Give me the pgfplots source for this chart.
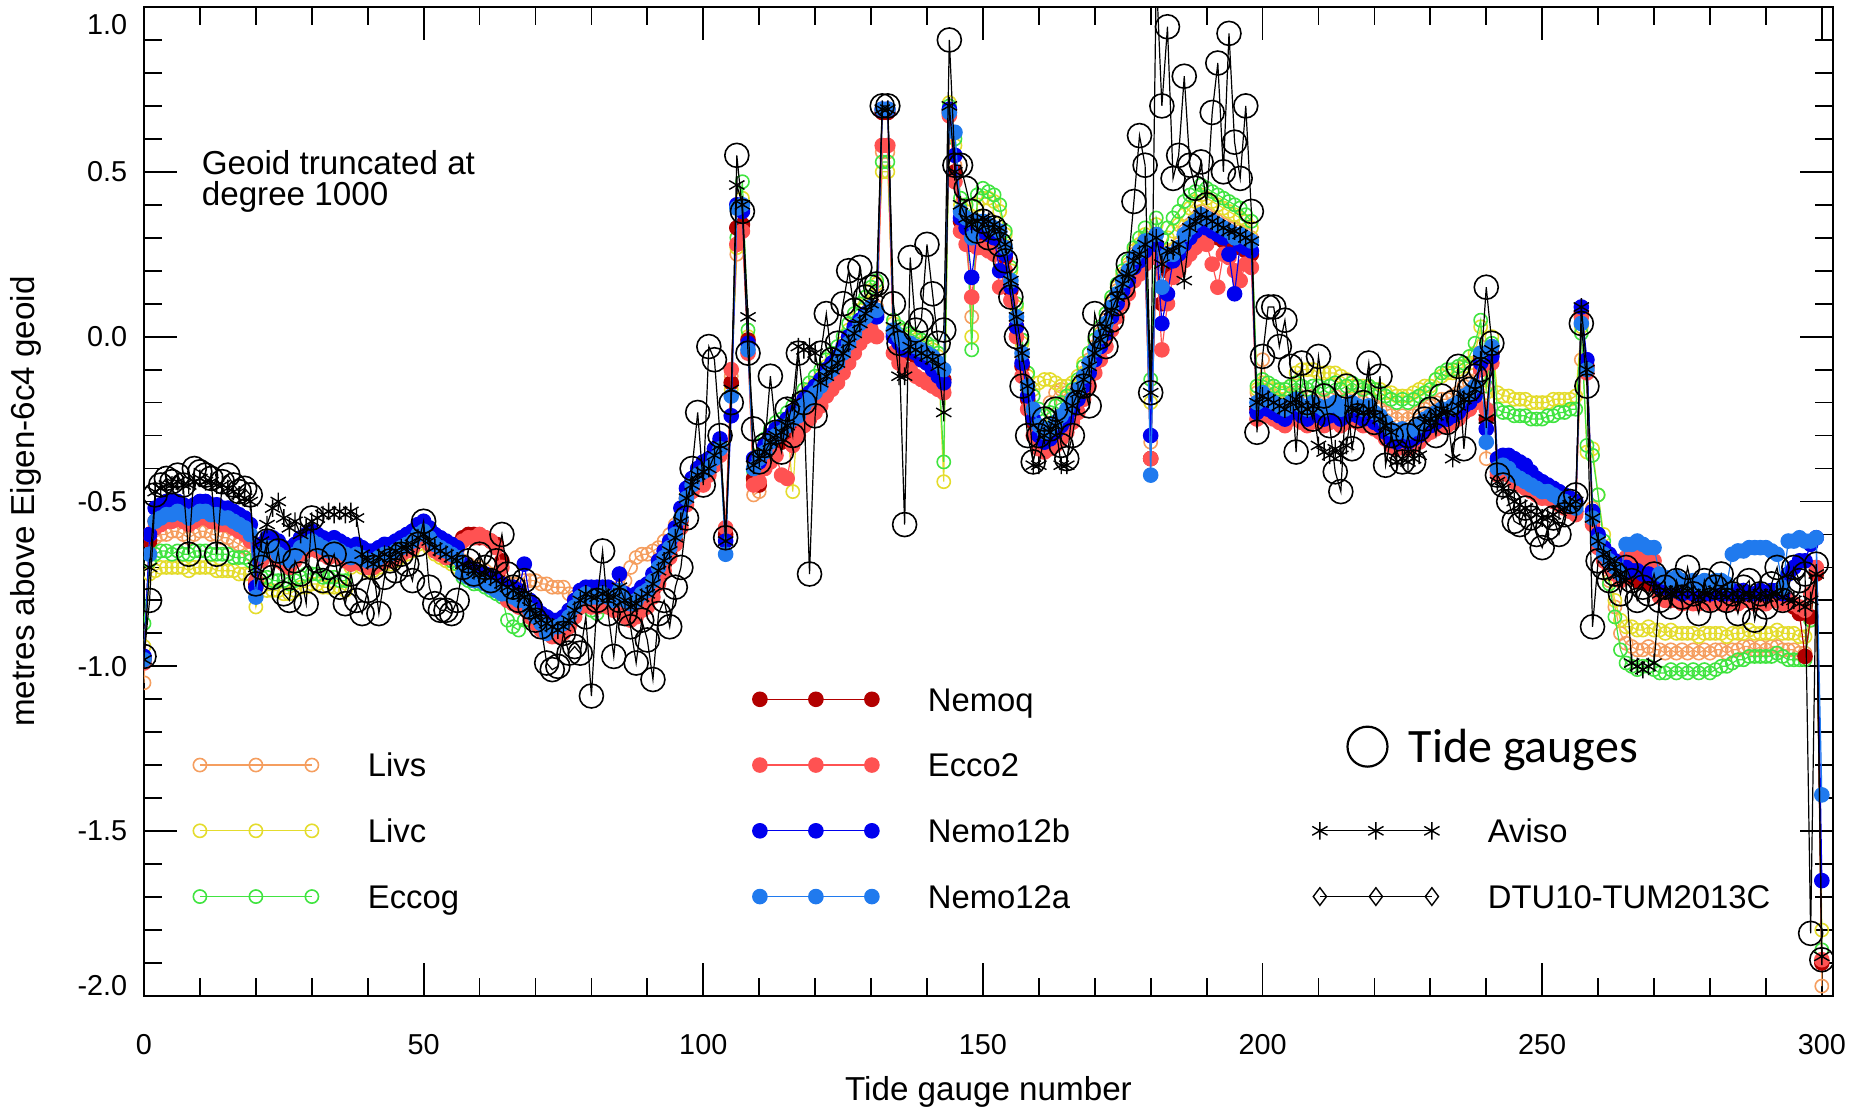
\documentclass[border=0pt]{standalone}
\usepackage{fontspec}
\setmainfont{Liberation Sans}
\newfontfamily\calibri{Carlito}
\usepackage{pgfplots}
\usepackage{pgfplotstable}
\pgfplotsset{compat=1.18}
\definecolor{clivs}{RGB}{245,158,95}
\definecolor{clivc}{RGB}{228,220,45}
\definecolor{ceccog}{RGB}{65,228,65}
\definecolor{cnemoq}{RGB}{178,0,0}
\definecolor{cecco}{RGB}{255,82,82}
\definecolor{cnemob}{RGB}{0,0,238}
\definecolor{cnemoa}{RGB}{32,122,238}
\pgfplotsset{
  sLivs/.style={clivs, line width=0.3pt, mark=o, mark size=1.65pt, mark options={solid, line width=0.4pt}},
  sLivc/.style={clivc, line width=0.3pt, mark=o, mark size=1.65pt, mark options={solid, line width=0.4pt}},
  sEccog/.style={ceccog, line width=0.3pt, mark=o, mark size=1.65pt, mark options={solid, line width=0.4pt}},
  sNemoq/.style={cnemoq, line width=0.3pt, mark=*, mark size=1.8pt, mark options={solid}},
  sEcco/.style={cecco, line width=0.3pt, mark=*, mark size=1.8pt, mark options={solid}},
  sNemob/.style={cnemob, line width=0.3pt, mark=*, mark size=1.8pt, mark options={solid}},
  sNemoa/.style={cnemoa, line width=0.3pt, mark=*, mark size=1.8pt, mark options={solid}},
  sAviso/.style={black, line width=0.3pt, mark=asterisk, mark size=2.2pt, mark options={solid, line width=0.35pt}},
  sDTU/.style={black, line width=0.3pt, mark=diamond, mark size=2.2pt, mark options={solid, line width=0.35pt}},
  sTG/.style={black, line width=0.3pt, mark=o, mark size=3.0pt, mark options={solid, line width=0.4pt}},
  samp/.style={legend image code/.code={%
      \path[draw=none, fill=none] (-3pt,-3pt) rectangle (31pt,3pt);
      \draw[##1] plot coordinates {(0pt,0pt) (14pt,0pt) (28pt,0pt)};}},
}
\pgfplotstableread{
x tg av a b e q g c s
0 -0.97 -0.98 -0.98 -0.97 -0.99 -0.98 -0.87 -0.94 -1.05
1 -0.80 -0.70 -0.66 -0.60 -0.60 -0.62 -0.68 -0.72 -0.64
2 -0.48 -0.47 -0.56 -0.52 -0.58 -0.56 -0.66 -0.71 -0.61
3 -0.45 -0.46 -0.55 -0.51 -0.57 -0.55 -0.65 -0.70 -0.60
4 -0.43 -0.45 -0.54 -0.50 -0.56 -0.55 -0.65 -0.70 -0.60
5 -0.44 -0.45 -0.54 -0.50 -0.56 -0.54 -0.66 -0.70 -0.59
6 -0.42 -0.44 -0.53 -0.50 -0.55 -0.54 -0.65 -0.70 -0.59
7 -0.45 -0.45 -0.54 -0.51 -0.56 -0.55 -0.66 -0.70 -0.60
8 -0.66 -0.45 -0.55 -0.52 -0.57 -0.56 -0.66 -0.71 -0.61
9 -0.40 -0.44 -0.54 -0.51 -0.56 -0.55 -0.65 -0.70 -0.60
10 -0.41 -0.43 -0.53 -0.50 -0.55 -0.54 -0.65 -0.70 -0.59
11 -0.42 -0.44 -0.53 -0.50 -0.55 -0.54 -0.65 -0.70 -0.59
12 -0.43 -0.44 -0.54 -0.51 -0.56 -0.55 -0.66 -0.70 -0.60
13 -0.66 -0.45 -0.54 -0.51 -0.56 -0.55 -0.66 -0.71 -0.60
14 -0.44 -0.45 -0.55 -0.52 -0.57 -0.56 -0.66 -0.71 -0.61
15 -0.42 -0.46 -0.55 -0.52 -0.57 -0.56 -0.66 -0.71 -0.61
16 -0.45 -0.47 -0.56 -0.53 -0.58 -0.57 -0.67 -0.71 -0.62
17 -0.47 -0.48 -0.57 -0.54 -0.59 -0.58 -0.67 -0.72 -0.63
18 -0.46 -0.49 -0.58 -0.55 -0.60 -0.59 -0.67 -0.72 -0.64
19 -0.48 -0.50 -0.60 -0.57 -0.62 -0.61 -0.68 -0.72 -0.66
20 -0.75 -0.70 -0.79 -0.76 -0.74 -0.75 -0.76 -0.82 -0.78
21 -0.70 -0.62 -0.66 -0.63 -0.68 -0.66 -0.73 -0.76 -0.68
22 -0.62 -0.57 -0.64 -0.61 -0.66 -0.64 -0.73 -0.77 -0.66
23 -0.73 -0.52 -0.64 -0.61 -0.66 -0.65 -0.74 -0.77 -0.66
24 -0.65 -0.50 -0.66 -0.62 -0.68 -0.66 -0.74 -0.77 -0.67
25 -0.78 -0.55 -0.67 -0.64 -0.69 -0.67 -0.74 -0.78 -0.68
26 -0.80 -0.58 -0.68 -0.65 -0.70 -0.68 -0.75 -0.78 -0.69
27 -0.68 -0.56 -0.66 -0.63 -0.68 -0.66 -0.74 -0.77 -0.67
28 -0.72 -0.60 -0.64 -0.61 -0.66 -0.64 -0.73 -0.76 -0.65
29 -0.81 -0.58 -0.63 -0.60 -0.65 -0.63 -0.72 -0.76 -0.64
30 -0.55 -0.56 -0.62 -0.59 -0.64 -0.62 -0.72 -0.75 -0.63
31 -0.68 -0.55 -0.63 -0.60 -0.65 -0.63 -0.72 -0.75 -0.64
32 -0.74 -0.54 -0.64 -0.61 -0.66 -0.64 -0.73 -0.76 -0.65
33 -0.70 -0.53 -0.65 -0.62 -0.67 -0.65 -0.73 -0.76 -0.66
34 -0.66 -0.54 -0.64 -0.61 -0.66 -0.64 -0.73 -0.76 -0.65
35 -0.76 -0.53 -0.65 -0.62 -0.67 -0.65 -0.74 -0.76 -0.66
36 -0.81 -0.54 -0.66 -0.63 -0.68 -0.66 -0.74 -0.77 -0.67
37 -0.72 -0.53 -0.67 -0.64 -0.69 -0.67 -0.69 -0.70 -0.68
38 -0.80 -0.55 -0.66 -0.63 -0.68 -0.66 -0.68 -0.69 -0.67
39 -0.84 -0.66 -0.67 -0.64 -0.69 -0.67 -0.69 -0.70 -0.68
40 -0.77 -0.68 -0.68 -0.65 -0.70 -0.68 -0.70 -0.71 -0.69
41 -0.70 -0.69 -0.68 -0.65 -0.70 -0.68 -0.70 -0.71 -0.69
42 -0.84 -0.67 -0.67 -0.64 -0.69 -0.67 -0.69 -0.70 -0.68
43 -0.73 -0.66 -0.66 -0.63 -0.68 -0.66 -0.68 -0.69 -0.67
44 -0.68 -0.67 -0.66 -0.63 -0.68 -0.66 -0.68 -0.69 -0.67
45 -0.71 -0.65 -0.65 -0.62 -0.67 -0.65 -0.67 -0.68 -0.66
46 -0.66 -0.64 -0.64 -0.61 -0.66 -0.64 -0.66 -0.67 -0.65
47 -0.69 -0.64 -0.63 -0.60 -0.65 -0.63 -0.65 -0.66 -0.64
48 -0.74 -0.63 -0.62 -0.59 -0.64 -0.62 -0.64 -0.65 -0.63
49 -0.63 -0.61 -0.60 -0.57 -0.62 -0.60 -0.62 -0.63 -0.61
50 -0.56 -0.60 -0.59 -0.56 -0.61 -0.59 -0.61 -0.62 -0.60
51 -0.76 -0.62 -0.61 -0.58 -0.63 -0.61 -0.63 -0.64 -0.62
52 -0.81 -0.64 -0.63 -0.60 -0.65 -0.63 -0.65 -0.66 -0.64
53 -0.83 -0.65 -0.64 -0.61 -0.66 -0.64 -0.66 -0.67 -0.65
54 -0.83 -0.66 -0.65 -0.62 -0.67 -0.65 -0.67 -0.68 -0.66
55 -0.84 -0.67 -0.66 -0.63 -0.66 -0.64 -0.68 -0.69 -0.65
56 -0.80 -0.68 -0.67 -0.64 -0.64 -0.63 -0.69 -0.70 -0.65
57 -0.70 -0.69 -0.72 -0.69 -0.62 -0.61 -0.73 -0.72 -0.68
58 -0.68 -0.70 -0.73 -0.70 -0.61 -0.60 -0.74 -0.73 -0.69
59 -0.72 -0.71 -0.74 -0.71 -0.61 -0.60 -0.75 -0.74 -0.70
60 -0.66 -0.72 -0.74 -0.72 -0.60 -0.61 -0.75 -0.74 -0.70
61 -0.70 -0.72 -0.75 -0.72 -0.61 -0.61 -0.76 -0.75 -0.71
62 -0.74 -0.73 -0.76 -0.73 -0.62 -0.62 -0.77 -0.75 -0.72
63 -0.68 -0.74 -0.77 -0.74 -0.64 -0.63 -0.78 -0.76 -0.73
64 -0.60 -0.75 -0.78 -0.75 -0.70 -0.68 -0.79 -0.77 -0.74
65 -0.72 -0.76 -0.78 -0.76 -0.80 -0.78 -0.86 -0.80 -0.75
66 -0.76 -0.77 -0.79 -0.76 -0.81 -0.79 -0.88 -0.81 -0.75
67 -0.80 -0.78 -0.80 -0.77 -0.82 -0.80 -0.89 -0.82 -0.75
68 -0.74 -0.79 -0.80 -0.69 -0.82 -0.80 -0.86 -0.82 -0.74
69 -0.82 -0.82 -0.83 -0.80 -0.85 -0.83 -0.86 -0.84 -0.74
70 -0.86 -0.84 -0.85 -0.82 -0.87 -0.85 -0.87 -0.86 -0.74
71 -0.88 -0.86 -0.87 -0.84 -0.89 -0.87 -0.88 -0.87 -0.75
72 -0.99 -0.87 -0.90 -0.85 -0.90 -0.88 -0.90 -0.88 -0.75
73 -1.01 -0.88 -0.88 -0.86 -0.91 -0.89 -0.91 -0.89 -0.76
74 -1.00 -0.89 -0.88 -0.86 -0.91 -0.89 -0.91 -0.89 -0.76
75 -0.90 -0.88 -0.87 -0.85 -0.90 -0.88 -0.90 -0.88 -0.76
76 -0.96 -0.86 -0.85 -0.83 -0.88 -0.86 -0.88 -0.87 -0.78
77 -0.94 -0.83 -0.82 -0.80 -0.85 -0.83 -0.85 -0.84 -0.79
78 -0.96 -0.80 -0.79 -0.77 -0.82 -0.80 -0.82 -0.81 -0.78
79 -0.85 -0.78 -0.78 -0.76 -0.81 -0.79 -0.81 -0.80 -0.77
80 -1.09 -0.79 -0.79 -0.76 -0.82 -0.80 -0.83 -0.81 -0.78
81 -0.80 -0.79 -0.79 -0.76 -0.82 -0.80 -0.84 -0.81 -0.78
82 -0.65 -0.78 -0.78 -0.76 -0.81 -0.79 -0.82 -0.80 -0.77
83 -0.84 -0.79 -0.79 -0.76 -0.82 -0.80 -0.82 -0.80 -0.77
84 -0.97 -0.79 -0.80 -0.77 -0.83 -0.81 -0.83 -0.81 -0.78
85 -0.80 -0.76 -0.77 -0.72 -0.80 -0.78 -0.80 -0.78 -0.76
86 -0.84 -0.80 -0.80 -0.78 -0.85 -0.83 -0.82 -0.81 -0.74
87 -0.88 -0.82 -0.81 -0.79 -0.86 -0.84 -0.83 -0.82 -0.70
88 -0.99 -0.81 -0.80 -0.78 -0.85 -0.83 -0.82 -0.81 -0.67
89 -0.86 -0.79 -0.78 -0.76 -0.83 -0.81 -0.80 -0.79 -0.66
90 -0.92 -0.78 -0.77 -0.75 -0.82 -0.80 -0.79 -0.78 -0.66
91 -1.04 -0.75 -0.74 -0.72 -0.79 -0.77 -0.76 -0.75 -0.65
92 -0.84 -0.71 -0.70 -0.68 -0.75 -0.73 -0.72 -0.71 -0.64
93 -0.80 -0.68 -0.67 -0.65 -0.71 -0.69 -0.69 -0.68 -0.62
94 -0.88 -0.65 -0.64 -0.62 -0.67 -0.66 -0.66 -0.65 -0.60
95 -0.76 -0.61 -0.60 -0.58 -0.63 -0.62 -0.62 -0.61 -0.57
96 -0.70 -0.56 -0.55 -0.52 -0.58 -0.56 -0.56 -0.55 -0.52
97 -0.55 -0.49 -0.49 -0.46 -0.51 -0.49 -0.49 -0.48 -0.46
98 -0.40 -0.45 -0.45 -0.43 -0.47 -0.45 -0.44 -0.44 -0.43
99 -0.23 -0.42 -0.42 -0.40 -0.44 -0.42 -0.41 -0.41 -0.40
100 -0.45 -0.41 -0.41 -0.38 -0.45 -0.43 -0.40 -0.41 -0.40
101 -0.03 -0.40 -0.40 -0.37 -0.42 -0.40 -0.38 -0.39 -0.38
102 -0.07 -0.36 -0.37 -0.34 -0.39 -0.37 -0.35 -0.36 -0.35
103 -0.30 -0.33 -0.34 -0.31 -0.36 -0.34 -0.32 -0.33 -0.32
104 -0.61 -0.62 -0.66 -0.62 -0.58 -0.60 -0.60 -0.62 -0.58
105 -0.20 -0.16 -0.18 -0.24 -0.10 -0.14 -0.14 -0.16 -0.12
106 0.55 0.46 0.39 0.40 0.28 0.33 0.30 0.27 0.25
107 0.38 0.40 0.40 0.38 0.32 0.34 0.47 0.42 0.32
108 -0.05 0.06 -0.04 -0.02 -0.05 -0.01 0.02 0.00 -0.03
109 -0.28 -0.39 -0.40 -0.37 -0.45 -0.43 -0.41 -0.44 -0.48
110 -0.38 -0.37 -0.37 -0.38 -0.44 -0.45 -0.33 -0.36 -0.47
111 -0.33 -0.35 -0.35 -0.33 -0.40 -0.38 -0.31 -0.33 -0.40
112 -0.12 -0.32 -0.32 -0.30 -0.38 -0.35 -0.28 -0.30 -0.36
113 -0.29 -0.30 -0.30 -0.28 -0.36 -0.33 -0.26 -0.28 -0.33
114 -0.35 -0.29 -0.29 -0.27 -0.42 -0.32 -0.25 -0.27 -0.32
115 -0.22 -0.27 -0.27 -0.25 -0.43 -0.30 -0.23 -0.25 -0.30
116 -0.30 -0.20 -0.25 -0.23 -0.33 -0.28 -0.21 -0.47 -0.28
117 -0.05 -0.03 -0.24 -0.22 -0.30 -0.27 -0.19 -0.21 -0.27
118 -0.20 -0.04 -0.21 -0.19 -0.27 -0.24 -0.16 -0.18 -0.24
119 -0.72 -0.03 -0.19 -0.17 -0.25 -0.22 -0.14 -0.16 -0.22
120 -0.24 -0.05 -0.17 -0.15 -0.23 -0.20 -0.12 -0.14 -0.20
121 -0.05 -0.14 -0.15 -0.13 -0.21 -0.18 -0.10 -0.12 -0.18
122 0.07 -0.12 -0.12 -0.10 -0.18 -0.15 -0.07 -0.09 -0.15
123 -0.07 -0.10 -0.10 -0.08 -0.16 -0.13 -0.05 -0.07 -0.13
124 -0.02 -0.08 -0.08 -0.06 -0.14 -0.11 -0.03 -0.05 -0.11
125 0.10 -0.05 -0.05 -0.03 -0.11 -0.08 0.00 -0.02 -0.08
126 0.20 -0.02 -0.02 0.00 -0.08 -0.04 0.04 0.02 -0.05
127 0.08 0.01 0.01 0.03 -0.05 -0.01 0.07 0.05 -0.02
128 0.21 0.04 0.04 0.05 -0.02 0.02 0.10 0.08 0.01
129 0.12 0.07 0.06 0.07 0.00 0.05 0.12 0.10 0.03
130 0.15 0.10 0.09 0.09 0.02 0.08 0.15 0.14 0.06
131 0.16 0.13 0.08 0.06 0.00 0.07 0.17 0.16 0.09
132 0.70 0.69 0.69 0.69 0.58 0.68 0.53 0.50 0.56
133 0.70 0.69 0.69 0.69 0.58 0.68 0.53 0.50 0.56
134 0.10 0.03 0.02 0.00 -0.05 0.01 0.05 0.04 0.00
135 -0.02 -0.12 0.00 -0.02 -0.08 -0.03 0.03 0.02 -0.02
136 -0.57 -0.12 -0.02 -0.04 -0.10 -0.05 0.02 0.00 -0.03
137 0.24 -0.03 -0.02 -0.04 -0.10 -0.05 0.01 0.00 -0.03
138 0.02 -0.04 -0.03 -0.05 -0.12 -0.06 0.00 -0.01 -0.04
139 0.05 -0.05 -0.04 -0.07 -0.13 -0.07 -0.01 -0.02 -0.06
140 0.28 -0.06 -0.05 -0.08 -0.14 -0.08 -0.02 -0.03 -0.07
141 0.13 -0.07 -0.06 -0.10 -0.15 -0.09 -0.03 -0.04 -0.10
142 -0.02 -0.09 -0.08 -0.12 -0.16 -0.11 -0.05 -0.06 -0.13
143 0.02 -0.23 -0.10 -0.14 -0.17 -0.13 -0.38 -0.44 -0.15
144 0.90 0.70 0.68 0.69 0.67 0.68 0.70 0.71 0.69
145 0.52 0.50 0.62 0.55 0.47 0.50 0.60 0.58 0.52
146 0.52 0.40 0.38 0.36 0.32 0.35 0.42 0.40 0.36
147 0.45 0.36 0.36 0.33 0.28 0.32 0.40 0.38 0.34
148 0.38 0.34 0.30 0.18 0.12 0.28 -0.04 0.00 0.06
149 0.32 0.35 0.35 0.32 0.27 0.30 0.43 0.40 0.33
150 0.35 0.36 0.35 0.32 0.27 0.31 0.45 0.42 0.33
151 0.30 0.35 0.34 0.31 0.26 0.30 0.44 0.42 0.32
152 0.33 0.34 0.33 0.30 0.25 0.29 0.43 0.41 0.31
153 0.28 0.33 0.32 0.20 0.15 0.28 0.40 0.38 0.30
154 0.23 0.28 0.27 0.25 0.20 0.24 0.32 0.31 0.26
155 0.12 0.17 0.17 0.15 0.11 0.14 0.21 0.20 0.16
156 0.00 0.06 0.06 0.03 0.00 0.03 0.10 0.09 0.05
157 -0.15 -0.05 -0.05 -0.08 -0.12 -0.09 -0.01 -0.02 -0.06
158 -0.30 -0.15 -0.15 -0.18 -0.22 -0.19 -0.11 -0.12 -0.16
159 -0.38 -0.39 -0.22 -0.25 -0.30 -0.26 -0.18 -0.16 -0.22
160 -0.30 -0.39 -0.27 -0.30 -0.34 -0.31 -0.22 -0.14 -0.27
161 -0.25 -0.30 -0.29 -0.32 -0.35 -0.33 -0.24 -0.13 -0.28
162 -0.28 -0.29 -0.28 -0.31 -0.34 -0.32 -0.23 -0.13 -0.20
163 -0.22 -0.27 -0.26 -0.29 -0.33 -0.30 -0.21 -0.14 -0.17
164 -0.33 -0.39 -0.24 -0.27 -0.31 -0.28 -0.20 -0.15 -0.16
165 -0.37 -0.39 -0.22 -0.25 -0.29 -0.26 -0.18 -0.15 -0.17
166 -0.30 -0.21 -0.19 -0.22 -0.26 -0.23 -0.16 -0.14 -0.17
167 -0.20 -0.17 -0.16 -0.19 -0.23 -0.20 -0.13 -0.12 -0.15
168 -0.15 -0.13 -0.12 -0.15 -0.19 -0.16 -0.09 -0.08 -0.11
169 -0.21 -0.09 -0.08 -0.11 -0.15 -0.12 -0.05 -0.05 -0.07
170 0.07 -0.05 -0.04 -0.07 -0.11 -0.08 -0.01 -0.01 -0.03
171 0.00 -0.01 0.00 -0.03 -0.07 -0.04 0.03 0.03 0.01
172 -0.03 0.03 0.04 0.01 -0.03 0.00 0.07 0.07 0.05
173 0.05 0.08 0.09 0.06 0.02 0.05 0.12 0.11 0.10
174 0.10 0.12 0.13 0.10 0.06 0.09 0.16 0.15 0.14
175 0.15 0.16 0.17 0.14 0.10 0.13 0.20 0.19 0.18
176 0.22 0.19 0.20 0.17 0.13 0.16 0.23 0.22 0.21
177 0.41 0.23 0.24 0.21 0.17 0.20 0.27 0.26 0.25
178 0.61 0.25 0.26 0.23 0.19 0.22 0.30 0.28 0.27
179 0.52 0.28 0.29 0.26 0.22 0.25 0.33 0.31 0.30
180 -0.17 -0.17 -0.42 -0.30 -0.37 -0.37 -0.13 -0.20 -0.32
181 1.10 0.30 0.31 0.28 0.24 0.27 0.36 0.34 0.31
182 0.70 0.22 0.15 0.04 -0.04 0.10 0.30 0.25 0.20
183 0.94 0.26 0.25 0.13 0.10 0.20 0.33 0.30 0.26
184 0.48 0.26 0.25 0.23 0.18 0.22 0.36 0.32 0.26
185 0.55 0.28 0.27 0.25 0.20 0.24 0.38 0.34 0.28
186 0.79 0.17 0.31 0.28 0.23 0.27 0.41 0.37 0.32
187 0.52 0.33 0.33 0.30 0.25 0.29 0.43 0.39 0.34
188 0.45 0.35 0.35 0.32 0.27 0.31 0.44 0.41 0.36
189 0.53 0.37 0.37 0.34 0.29 0.33 0.46 0.43 0.38
190 0.40 0.36 0.36 0.33 0.28 0.32 0.45 0.42 0.37
191 0.68 0.35 0.35 0.32 0.22 0.31 0.44 0.41 0.36
192 0.83 0.34 0.34 0.31 0.15 0.30 0.43 0.40 0.35
193 0.50 0.33 0.33 0.30 0.25 0.29 0.42 0.39 0.34
194 0.92 0.32 0.32 0.25 0.24 0.28 0.41 0.38 0.33
195 0.59 0.32 0.30 0.13 0.20 0.28 0.40 0.37 0.33
196 0.48 0.31 0.31 0.28 0.17 0.27 0.39 0.36 0.32
197 0.70 0.30 0.30 0.27 0.22 0.26 0.37 0.35 0.31
198 0.38 0.29 0.29 0.26 0.21 0.25 0.35 0.33 0.30
199 -0.29 -0.20 -0.20 -0.23 -0.25 -0.22 -0.15 -0.16 -0.17
200 -0.06 -0.18 -0.17 -0.21 -0.22 -0.20 -0.13 -0.14 -0.07
201 0.09 -0.19 -0.19 -0.22 -0.24 -0.21 -0.14 -0.15 -0.16
202 0.09 -0.20 -0.20 -0.23 -0.25 -0.22 -0.15 -0.16 -0.18
203 -0.03 -0.21 -0.21 -0.24 -0.26 -0.23 -0.16 -0.17 -0.19
204 0.05 -0.22 -0.22 -0.25 -0.27 -0.24 -0.16 -0.17 -0.20
205 -0.09 -0.20 -0.20 -0.23 -0.25 -0.22 -0.15 -0.15 -0.18
206 -0.35 -0.19 -0.19 -0.22 -0.24 -0.21 -0.14 -0.11 -0.17
207 -0.08 -0.21 -0.21 -0.24 -0.26 -0.23 -0.15 -0.10 -0.19
208 -0.20 -0.22 -0.22 -0.25 -0.27 -0.24 -0.16 -0.10 -0.20
209 -0.25 -0.21 -0.20 -0.23 -0.25 -0.22 -0.15 -0.10 -0.18
210 -0.06 -0.33 -0.21 -0.24 -0.26 -0.23 -0.15 -0.11 -0.19
211 -0.18 -0.35 -0.22 -0.25 -0.27 -0.24 -0.16 -0.11 -0.20
212 -0.27 -0.36 -0.21 -0.24 -0.26 -0.23 -0.15 -0.11 -0.19
213 -0.41 -0.34 -0.20 -0.23 -0.25 -0.22 -0.14 -0.11 -0.18
214 -0.47 -0.36 -0.22 -0.25 -0.27 -0.24 -0.16 -0.12 -0.20
215 -0.15 -0.33 -0.21 -0.24 -0.26 -0.23 -0.15 -0.13 -0.19
216 -0.34 -0.22 -0.20 -0.23 -0.25 -0.22 -0.14 -0.15 -0.18
217 -0.24 -0.22 -0.21 -0.24 -0.26 -0.23 -0.15 -0.15 -0.19
218 -0.20 -0.23 -0.22 -0.25 -0.27 -0.24 -0.16 -0.15 -0.20
219 -0.08 -0.22 -0.21 -0.24 -0.26 -0.23 -0.15 -0.15 -0.19
220 -0.26 -0.24 -0.23 -0.26 -0.28 -0.25 -0.16 -0.16 -0.21
221 -0.12 -0.25 -0.24 -0.27 -0.29 -0.26 -0.17 -0.16 -0.22
222 -0.39 -0.27 -0.26 -0.29 -0.31 -0.28 -0.18 -0.17 -0.23
223 -0.30 -0.29 -0.28 -0.31 -0.33 -0.30 -0.19 -0.17 -0.24
224 -0.35 -0.38 -0.29 -0.32 -0.34 -0.31 -0.20 -0.18 -0.25
225 -0.38 -0.37 -0.28 -0.31 -0.33 -0.30 -0.19 -0.18 -0.24
226 -0.30 -0.38 -0.29 -0.32 -0.34 -0.31 -0.20 -0.18 -0.25
227 -0.38 -0.37 -0.28 -0.31 -0.33 -0.30 -0.19 -0.17 -0.24
228 -0.28 -0.36 -0.27 -0.30 -0.32 -0.29 -0.18 -0.16 -0.23
229 -0.25 -0.26 -0.25 -0.28 -0.30 -0.27 -0.17 -0.15 -0.22
230 -0.22 -0.25 -0.24 -0.27 -0.29 -0.26 -0.16 -0.15 -0.21
231 -0.30 -0.24 -0.23 -0.26 -0.28 -0.25 -0.13 -0.13 -0.20
232 -0.18 -0.23 -0.22 -0.25 -0.27 -0.24 -0.11 -0.12 -0.19
233 -0.26 -0.23 -0.22 -0.25 -0.27 -0.24 -0.10 -0.11 -0.19
234 -0.20 -0.37 -0.21 -0.24 -0.26 -0.23 -0.10 -0.11 -0.18
235 -0.09 -0.21 -0.20 -0.23 -0.25 -0.22 -0.09 -0.10 -0.17
236 -0.34 -0.19 -0.18 -0.21 -0.23 -0.20 -0.08 -0.09 -0.15
237 -0.16 -0.18 -0.17 -0.20 -0.22 -0.19 -0.06 -0.08 -0.14
238 -0.12 -0.16 -0.15 -0.18 -0.20 -0.17 -0.02 -0.05 -0.10
239 -0.10 -0.07 -0.05 -0.08 -0.10 -0.07 0.05 0.03 -0.03
240 0.15 -0.25 -0.32 -0.28 -0.22 -0.25 -0.15 -0.17 -0.37
241 -0.02 -0.04 -0.03 -0.06 -0.08 -0.05 -0.02 0.00 -0.05
242 -0.42 -0.44 -0.40 -0.37 -0.42 -0.41 -0.22 -0.17 -0.39
243 -0.45 -0.46 -0.39 -0.36 -0.41 -0.40 -0.23 -0.18 -0.38
244 -0.50 -0.48 -0.40 -0.36 -0.42 -0.41 -0.23 -0.18 -0.39
245 -0.56 -0.50 -0.42 -0.37 -0.44 -0.43 -0.24 -0.19 -0.41
246 -0.57 -0.51 -0.43 -0.38 -0.45 -0.44 -0.24 -0.19 -0.42
247 -0.52 -0.52 -0.44 -0.39 -0.46 -0.45 -0.24 -0.19 -0.43
248 -0.55 -0.53 -0.45 -0.41 -0.47 -0.46 -0.25 -0.20 -0.44
249 -0.60 -0.54 -0.46 -0.43 -0.48 -0.47 -0.25 -0.20 -0.45
250 -0.64 -0.55 -0.47 -0.44 -0.49 -0.48 -0.25 -0.20 -0.46
251 -0.58 -0.55 -0.47 -0.45 -0.49 -0.48 -0.24 -0.20 -0.46
252 -0.55 -0.54 -0.48 -0.46 -0.50 -0.49 -0.24 -0.19 -0.47
253 -0.60 -0.53 -0.49 -0.47 -0.51 -0.50 -0.23 -0.19 -0.48
254 -0.54 -0.52 -0.50 -0.48 -0.52 -0.51 -0.23 -0.19 -0.49
255 -0.50 -0.51 -0.51 -0.49 -0.53 -0.52 -0.22 -0.19 -0.50
256 -0.48 -0.50 -0.52 -0.50 -0.54 -0.53 -0.22 -0.18 -0.51
257 0.04 0.09 0.04 0.09 0.06 0.07 0.01 0.03 -0.07
258 -0.15 -0.10 -0.10 -0.07 -0.11 -0.09 -0.33 -0.35 -0.07
259 -0.88 -0.55 -0.55 -0.53 -0.57 -0.56 -0.36 -0.34 -0.52
260 -0.68 -0.62 -0.62 -0.60 -0.64 -0.63 -0.48 -0.48 -0.60
261 -0.70 -0.66 -0.66 -0.64 -0.68 -0.67 -0.62 -0.60 -0.66
262 -0.74 -0.68 -0.68 -0.66 -0.70 -0.69 -0.75 -0.72 -0.74
263 -0.72 -0.70 -0.70 -0.68 -0.72 -0.71 -0.85 -0.80 -0.82
264 -0.78 -0.72 -0.72 -0.70 -0.74 -0.73 -0.95 -0.86 -0.90
265 -0.70 -0.74 -0.63 -0.70 -0.67 -0.72 -0.99 -0.88 -0.93
266 -0.74 -0.99 -0.63 -0.71 -0.67 -0.73 -1.00 -0.88 -0.94
267 -0.80 -1.00 -0.62 -0.71 -0.66 -0.74 -1.01 -0.89 -0.95
268 -0.76 -1.01 -0.63 -0.72 -0.67 -0.74 -1.00 -0.89 -0.95
269 -0.78 -1.00 -0.64 -0.72 -0.68 -0.75 -1.00 -0.88 -0.94
270 -0.72 -0.99 -0.64 -0.73 -0.68 -0.75 -1.01 -0.89 -0.95
271 -0.80 -0.78 -0.72 -0.76 -0.79 -0.78 -1.02 -0.89 -0.95
272 -0.76 -0.77 -0.73 -0.76 -0.80 -0.78 -1.02 -0.90 -0.96
273 -0.82 -0.78 -0.74 -0.77 -0.80 -0.79 -1.01 -0.89 -0.95
274 -0.74 -0.77 -0.73 -0.77 -0.80 -0.79 -1.02 -0.90 -0.96
275 -0.79 -0.78 -0.74 -0.78 -0.81 -0.79 -1.01 -0.90 -0.95
276 -0.70 -0.77 -0.75 -0.77 -0.80 -0.79 -1.02 -0.90 -0.96
277 -0.78 -0.78 -0.74 -0.78 -0.81 -0.80 -1.01 -0.90 -0.95
278 -0.84 -0.79 -0.75 -0.78 -0.81 -0.80 -1.02 -0.91 -0.96
279 -0.74 -0.78 -0.74 -0.77 -0.80 -0.79 -1.01 -0.90 -0.95
280 -0.80 -0.78 -0.75 -0.78 -0.81 -0.80 -1.02 -0.90 -0.96
281 -0.76 -0.77 -0.74 -0.77 -0.80 -0.79 -1.01 -0.90 -0.95
282 -0.72 -0.78 -0.74 -0.78 -0.81 -0.79 -1.00 -0.90 -0.95
283 -0.80 -0.79 -0.75 -0.78 -0.81 -0.80 -1.00 -0.91 -0.96
284 -0.78 -0.78 -0.66 -0.77 -0.80 -0.79 -0.99 -0.90 -0.95
285 -0.84 -0.79 -0.65 -0.78 -0.81 -0.80 -0.98 -0.90 -0.95
286 -0.76 -0.78 -0.65 -0.77 -0.80 -0.79 -0.98 -0.90 -0.94
287 -0.74 -0.78 -0.64 -0.78 -0.80 -0.79 -0.97 -0.89 -0.94
288 -0.86 -0.79 -0.64 -0.78 -0.81 -0.80 -0.97 -0.90 -0.95
289 -0.78 -0.78 -0.64 -0.77 -0.80 -0.79 -0.97 -0.90 -0.94
290 -0.82 -0.79 -0.64 -0.78 -0.81 -0.80 -0.97 -0.90 -0.95
291 -0.75 -0.78 -0.65 -0.77 -0.80 -0.79 -0.97 -0.90 -0.94
292 -0.70 -0.78 -0.66 -0.77 -0.80 -0.79 -0.96 -0.89 -0.94
293 -0.80 -0.79 -0.76 -0.78 -0.81 -0.80 -0.97 -0.90 -0.95
294 -0.76 -0.80 -0.62 -0.72 -0.80 -0.80 -0.98 -0.90 -0.95
295 -0.70 -0.80 -0.62 -0.70 -0.81 -0.82 -0.98 -0.90 -0.95
296 -0.74 -0.81 -0.61 -0.68 -0.82 -0.84 -0.98 -0.91 -0.96
297 -0.72 -0.82 -0.62 -0.68 -0.83 -0.97 -0.98 -0.91 -0.96
298 -1.81 -0.80 -0.62 -0.63 -0.78 -0.85 -0.86 -0.85 -0.86
299 -0.69 -0.72 -0.61 -0.61 -0.70 -0.72 -0.72 -0.72 -0.70
300 -1.89 -1.88 -1.39 -1.65 -1.89 -1.90 -1.86 -1.80 -1.97
}\gdata
\begin{document}
\begin{tikzpicture}
\begin{axis}[
  width=422.25pt, height=247.25pt, scale only axis,
  xmin=0, xmax=302, ymin=-2, ymax=1,
  clip marker paths=true,
  axis line style={line width=0.5pt},
  tick style={black, line width=0.45pt},
  major tick length=8.3pt, minor tick length=4.6pt,
  xtick={0,50,100,150,200,250,300}, minor x tick num=4,
  ytick={-2,-1.5,-1,-0.5,0,0.5,1}, minor y tick num=4,
  yticklabels={\smash{\raisebox{0.2pt}{-2.0}},-1.5,-1.0,-0.5,0.0,0.5,\smash{\raisebox{-6.8pt}{1.0}}},
  /pgf/number format/assume math mode=true,
  tick label style={font=\fontsize{7.2}{8.6}\selectfont},
  xticklabel style={anchor=center, yshift=-12.1pt},
  yticklabel style={anchor=east, inner sep=0pt, xshift=-4pt},
  xlabel={Tide gauge number},
  ylabel={metres above Eigen-6c4 geoid},
  every axis x label/.style={at={(axis description cs:0.5,-0.097)}, anchor=center, font=\fontsize{8.3}{10}\selectfont},
  every axis y label/.style={at={(axis description cs:-0.0699,0.5)}, rotate=90, anchor=center, font=\fontsize{8.3}{10}\selectfont},
  legend columns=3,
  legend cell align=left,
  legend style={at={(axis cs:7.85,-1.0636)}, anchor=north west, draw=none, fill=none,
    inner sep=0pt, outer sep=0pt, row sep=10.44pt,
    nodes={inner sep=0pt, text height=5.9pt, text depth=0pt, font=\fontsize{8.2}{9.8}\selectfont},
    /tikz/every odd column/.append style={column sep=11pt},
    /tikz/every even column/.append style={column sep=0pt}},
]
\addplot[forget plot, sLivs] table[x=x, y=s] {\gdata};
\addplot[forget plot, sLivc] table[x=x, y=c] {\gdata};
\addplot[forget plot, sEccog] table[x=x, y=g] {\gdata};
\addplot[forget plot, sNemoq] table[x=x, y=q] {\gdata};
\addplot[forget plot, sEcco] table[x=x, y=e] {\gdata};
\addplot[forget plot, sNemob] table[x=x, y=b] {\gdata};
\addplot[forget plot, sNemoa] table[x=x, y=a] {\gdata};
\addplot[forget plot, sAviso] table[x=x, y=av] {\gdata};
\addplot[forget plot, sTG] table[x=x, y=tg] {\gdata};

\node[anchor=north west, inner sep=0pt, align=left, font=\fontsize{8.3}{7.7}\selectfont]
  at (axis cs:10.2,0.566) {Geoid truncated at\\degree 1000};

% legend, row by row (3 columns)
\addlegendimage{empty legend}
\addlegendentry{\makebox[95pt][l]{}}
\addlegendimage{samp, sNemoq}
\addlegendentry{\makebox[95pt][l]{Nemoq}}
\addlegendimage{empty legend}
\addlegendentry{}
\addlegendimage{samp, sLivs}
\addlegendentry{\makebox[95pt][l]{Livs}}
\addlegendimage{samp, sEcco}
\addlegendentry{\makebox[95pt][l]{Ecco2}}
\addlegendimage{legend image code/.code={\path[draw=none, fill=none] (-3pt,-3pt) rectangle (31pt,3pt);
   \draw[black, line width=0.55pt, fill=none, overlay] (11.9pt,4.6pt) circle (5pt);}}
\addlegendentry{\makebox[0pt][l]{\hspace*{-20.3pt}\raisebox{3.7pt}[0pt][0pt]{\calibri\fontsize{12}{14}\selectfont Tide gauges}}}
\addlegendimage{samp, sLivc}
\addlegendentry{\makebox[95pt][l]{Livc}}
\addlegendimage{samp, sNemob}
\addlegendentry{\makebox[95pt][l]{Nemo12b}}
\addlegendimage{samp, sAviso}
\addlegendentry{Aviso}
\addlegendimage{samp, sEccog}
\addlegendentry{\makebox[95pt][l]{Eccog}}
\addlegendimage{samp, sNemoa}
\addlegendentry{\makebox[95pt][l]{Nemo12a}}
\addlegendimage{samp, sDTU}
\addlegendentry{DTU10-TUM2013C}
\end{axis}
\pgfresetboundingbox
\path[use as bounding box] ([xshift=-36pt,yshift=-29.25pt]current axis.south west) rectangle ([xshift=8pt,yshift=1.75pt]current axis.north east);
\end{tikzpicture}
\end{document}
